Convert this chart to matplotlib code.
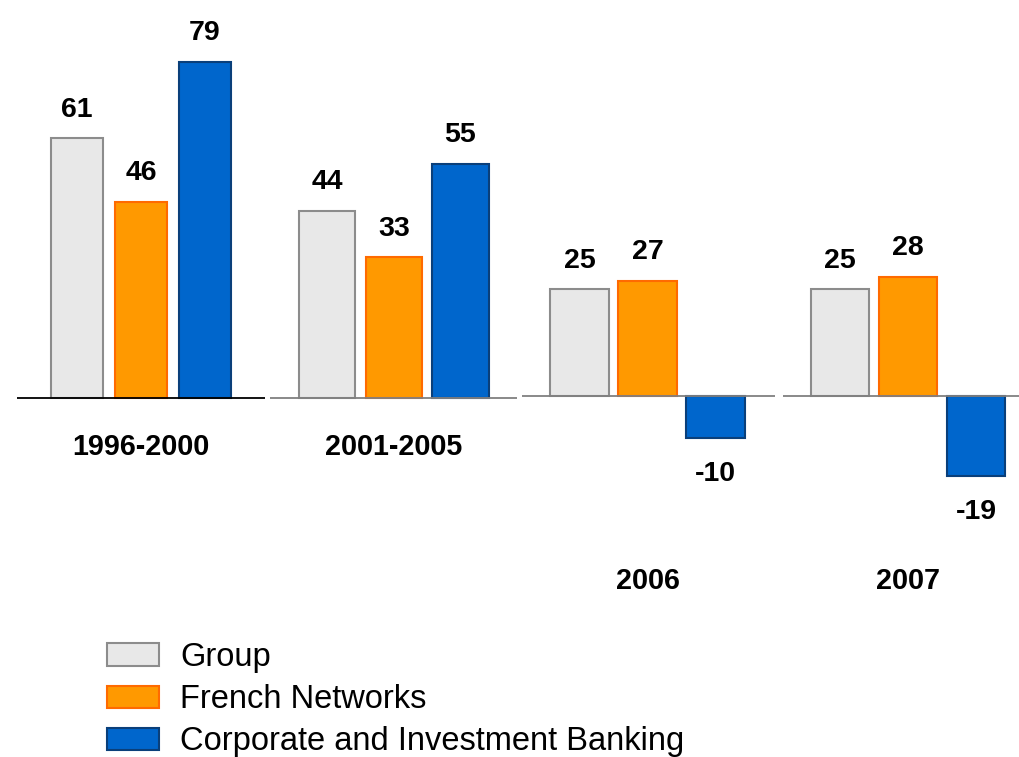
import matplotlib
matplotlib.use("Agg")
import matplotlib.pyplot as plt
from matplotlib.transforms import blended_transform_factory

plt.rcParams['font.family'] = ['Liberation Sans', 'DejaVu Sans']

periods = ["1996-2000", "2001-2005", "2006", "2007"]
series = ["Group", "French Networks", "Corporate and Investment Banking"]
group_vals = [61, 44, 25, 25]
french_vals = [46, 33, 27, 28]
cib_vals = [79, 55, -10, -19]

fills = ["#E8E8E8", "#FF9900", "#0066CC"]
edges = ["#8C8C8C", "#FF6A00", "#0A3F7A"]

W, H = 1019, 757
fig = plt.figure(figsize=(W / 100, H / 100), dpi=100)

PX_PER_UNIT = 4.25
# per-panel layout (pixels): left, right, baseline y, bar-centre spacing, bar width fraction, label baseline y, baseline colour
panels = [
    dict(left=17, right=265, yb=397.5, c0=77, sp=64, bw=0.81, lab=455, lc="#000000"),
    dict(left=270, right=517, yb=397.5, c0=327, sp=66.75, bw=0.84, lab=455, lc="#808080"),
    dict(left=522, right=775, yb=395.7, c0=579.5, sp=68, bw=0.87, lab=589, lc="#808080"),
    dict(left=783, right=1019, yb=395.7, c0=840, sp=68, bw=0.86, lab=589, lc="#808080"),
]

handles = None
for i, p in enumerate(panels):
    ax = fig.add_axes([p["left"] / W, 0, (p["right"] - p["left"]) / W, 1])
    ax.set_xlim((p["left"] - p["c0"]) / p["sp"], (p["right"] - p["c0"]) / p["sp"])
    ax.set_ylim(-(H - p["yb"]) / PX_PER_UNIT, p["yb"] / PX_PER_UNIT)
    ax.axis("off")
    vals = [group_vals[i], french_vals[i], cib_vals[i]]
    bars = []
    for j, v in enumerate(vals):
        b = ax.bar(j, v, width=p["bw"], color=fills[j], edgecolor=edges[j],
                   linewidth=1.5, zorder=2, label=series[j])
        bars.append(b)
        if v >= 0:
            ax.annotate(str(v), (j, v), xytext=(0, 15.5), textcoords="offset points",
                        ha="center", va="baseline", fontsize=20.5, fontweight="bold")
        else:
            ax.annotate(str(v), (j, v), xytext=(0, -30.5), textcoords="offset points",
                        ha="center", va="baseline", fontsize=20.5, fontweight="bold")
    ax.axhline(0, color=p["lc"], linewidth=1.3, zorder=3)
    tr = blended_transform_factory(ax.transData, ax.transAxes)
    ax.text(1, 1 - p["lab"] / H, periods[i], transform=tr, ha="center",
            va="baseline", fontsize=20.7, fontweight="bold")
    if handles is None:
        handles = bars

fig.legend(handles=handles, labels=series, loc="upper left",
           bbox_to_anchor=(107 / W, 1 - 642 / H), frameon=False, fontsize=23.5,
           handlelength=1.6, handleheight=0.67, handletextpad=0.64,
           labelspacing=0.34, borderpad=0, borderaxespad=0)

fig.savefig("out.png", dpi=100)
